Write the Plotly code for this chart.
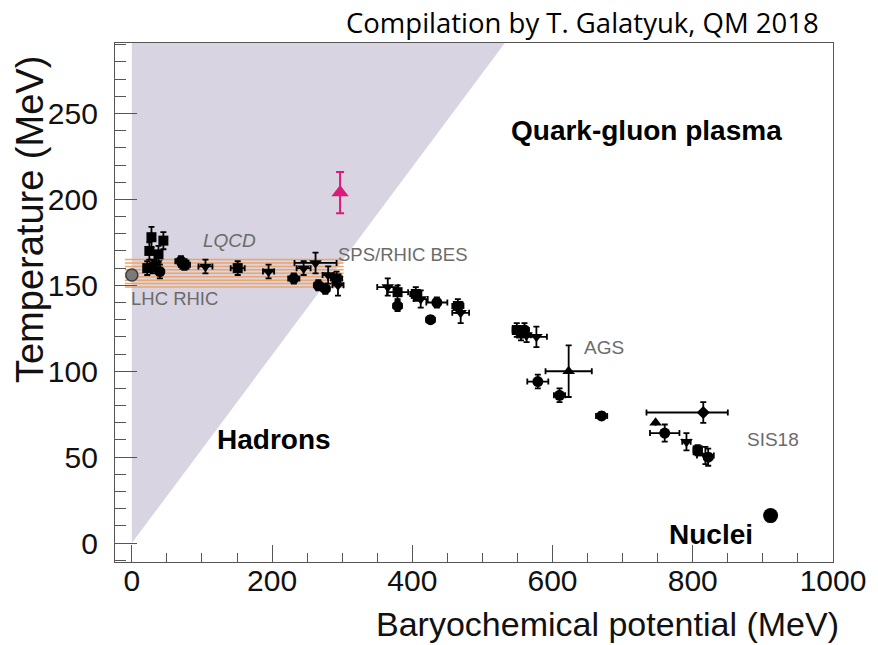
import plotly.graph_objects as go

# ---------------- data ----------------
# hadron / QGP boundary region (shaded)
region_mu = [0, 0, 532]
region_T = [0, 291, 291]

# LQCD band
band_T = [149, 151, 153, 155, 157, 159, 161, 163, 165]
band_mu = [-10, 302]

# LHC/RHIC reference point
lhc_mu = [0]
lhc_T = [156]

# freeze-out points, grouped by marker type
circ_mu = [30, 40, 70, 231, 266, 276, 379, 435, 426, 560, 579, 610, 670, 760, 822]
circ_T = [161, 158, 164, 154, 150, 148, 138, 140, 130, 124, 94, 86, 74, 64, 50]
circ_ex = [4, 4, 8, 8, 6, 6, 6, 15, 6, 6, 15, 8, 8, 21, 6]
circ_ey = [4, 4, 3, 3, 3, 3, 3, 3, 2, 4, 4, 4, 2, 5, 5]

sq_mu = [28, 45, 25, 38, 22, 75, 151, 292, 379, 405, 465, 549, 555, 807]
sq_T = [178, 176, 170, 168, 160, 162, 160, 154, 146, 145, 138, 124, 122, 54]
sq_ex = [4, 4, 4, 4, 4, 8, 10, 8, 15, 8, 8, 6, 6, 6]
sq_ey = [6, 5, 5, 5, 4, 3, 4, 4, 4, 4, 4, 4, 4, 3]

tdn_mu = [35, 105, 195, 245, 262, 280, 294, 365, 412, 469, 563, 577, 791, 818]
tdn_T = [163, 161, 158, 160, 163, 156, 150, 149, 142, 134, 121, 120, 59, 51]
tdn_ex = [4, 10, 8, 10, 30, 8, 8, 15, 10, 12, 6, 15, 6, 12]
tdn_ey = [5, 4, 4, 4, 6, 5, 6, 5, 5, 6, 4, 6, 5, 5]

tup_mu = [623, 747]
tup_T = [100, 70]
tup_ex = [33, 0]
tup_ey = [15, 0]

dia_mu = [815]
dia_T = [76]
dia_ex_plus = [35]
dia_ex_minus = [81]
dia_ey = [6]

nuc_mu = [911]
nuc_T = [16]

# outlier point (magenta)
mag_mu = [297]
mag_T = [204]
mag_ey = [12]

x_ticks = [0, 200, 400, 600, 800, 1000]
y_ticks = [0, 50, 100, 150, 200, 250]

# ---------------- figure ----------------
fig = go.Figure()

fig.add_trace(go.Scatter(x=region_mu, y=region_T, fill="toself", mode="lines",
                         fillcolor="#d8d4e1", line=dict(width=0), hoverinfo="skip"))

bx, by = [], []
for t in band_T:
    bx += [band_mu[0], band_mu[1], None]
    by += [t, t, None]
fig.add_trace(go.Scatter(x=bx, y=by, mode="lines",
                         line=dict(color="#eea466", width=1.5), hoverinfo="skip"))

fig.add_trace(go.Scatter(x=lhc_mu, y=lhc_T, mode="markers",
                         marker=dict(symbol="circle", size=12, color="#7a7a7a",
                                     line=dict(color="#3a3a3a", width=1.5))))

def pts(mu, T, ex, ey, symbol, size, exm=None):
    ex_d = dict(type="data", array=ex, visible=True, color="black", thickness=1.8, width=3)
    if exm is not None:
        ex_d["symmetric"] = False
        ex_d["arrayminus"] = exm
    fig.add_trace(go.Scatter(
        x=mu, y=T, mode="markers",
        marker=dict(symbol=symbol, size=size, color="black"),
        error_x=ex_d,
        error_y=dict(type="data", array=ey, visible=True, color="black", thickness=1.8, width=3),
    ))

pts(circ_mu, circ_T, circ_ex, circ_ey, "circle", 11)
pts(sq_mu, sq_T, sq_ex, sq_ey, "square", 10)
pts(tdn_mu, tdn_T, tdn_ex, tdn_ey, "triangle-down", 11)
pts(tup_mu, tup_T, tup_ex, tup_ey, "triangle-up", 11)
pts(dia_mu, dia_T, dia_ex_plus, dia_ey, "diamond", 10, exm=dia_ex_minus)

fig.add_trace(go.Scatter(x=nuc_mu, y=nuc_T, mode="markers",
                         marker=dict(symbol="circle", size=15, color="black")))

fig.add_trace(go.Scatter(x=mag_mu, y=mag_T, mode="markers",
                         marker=dict(symbol="triangle-up", size=15, color="#dc1a7c"),
                         error_y=dict(type="data", array=mag_ey, visible=True,
                                      color="#dc1a7c", thickness=2, width=4)))

axis_font = dict(family="Liberation Sans, Arial, sans-serif", size=30, color="#111")
fig.update_layout(
    width=878, height=645,
    margin=dict(l=115, r=40, t=43, b=83),
    paper_bgcolor="white", plot_bgcolor="white",
    showlegend=False,
    xaxis=dict(range=[-24, 1000], tickvals=x_ticks, ticks="inside", ticklen=17,
               tickcolor="#555", tickwidth=1, showgrid=False, zeroline=False,
               showline=True, linecolor="#555", linewidth=1.2, mirror=True,
               tickfont=axis_font, ticklabelstandoff=-8,
               minor=dict(dtick=50, tick0=0, ticks="inside", ticklen=9,
                          tickcolor="#555", tickwidth=1, showgrid=False)),
    yaxis=dict(range=[-11, 291], tickvals=y_ticks, ticks="inside", ticklen=22,
               tickcolor="#555", tickwidth=1, showgrid=False, zeroline=False,
               showline=True, linecolor="#555", linewidth=1.2, mirror=True,
               tickfont=axis_font, ticklabelstandoff=10,
               minor=dict(dtick=10, tick0=0, ticks="inside", ticklen=11,
                          tickcolor="#555", tickwidth=1, showgrid=False)),
)

ann = []
ann.append(dict(text="Baryochemical potential (MeV)", xref="paper", yref="paper",
                x=1.011, y=-0.119, xanchor="right", yanchor="middle", showarrow=False,
                font=dict(family="Liberation Sans, Arial", size=34, color="#111")))
ann.append(dict(text="Temperature (MeV)", xref="paper", yref="paper", textangle=-90,
                x=-0.1176, y=0.66, xanchor="center", yanchor="middle", showarrow=False,
                font=dict(family="Liberation Sans, Arial", size=38, color="#111")))
ann.append(dict(text="Compilation by T. Galatyuk, QM 2018", xref="paper", yref="paper",
                x=0.983, y=1.040, xanchor="right", yanchor="middle", showarrow=False,
                font=dict(family="Open Sans, sans-serif", size=27.5, color="#000")))

def lab(text, x, y, size, color, bold=False, italic=False):
    t = f"<b>{text}</b>" if bold else text
    t = f"<i>{t}</i>" if italic else t
    ann.append(dict(text=t, x=x, y=y, xref="x", yref="y", showarrow=False,
                    xanchor="center", yanchor="middle",
                    font=dict(family="Liberation Sans, Arial", size=size, color=color)))

lab("Quark-gluon plasma", 734, 240, 28, "#000", bold=True)
lab("Hadrons", 203, 60, 28, "#000", bold=True)
lab("Nuclei", 826, 5, 28, "#000", bold=True)
lab("LQCD", 139, 176, 19, "#6b6b6b", italic=True)
lab("SPS/RHIC BES", 387, 168, 18.5, "#6b6b6b")
lab("LHC RHIC", 61, 142.5, 18.5, "#6b6b6b")
lab("AGS", 673, 114, 19, "#6b6b6b")
lab("SIS18", 915, 60, 19, "#6b6b6b")

fig.update_layout(annotations=ann)
fig.write_html("out.html")
